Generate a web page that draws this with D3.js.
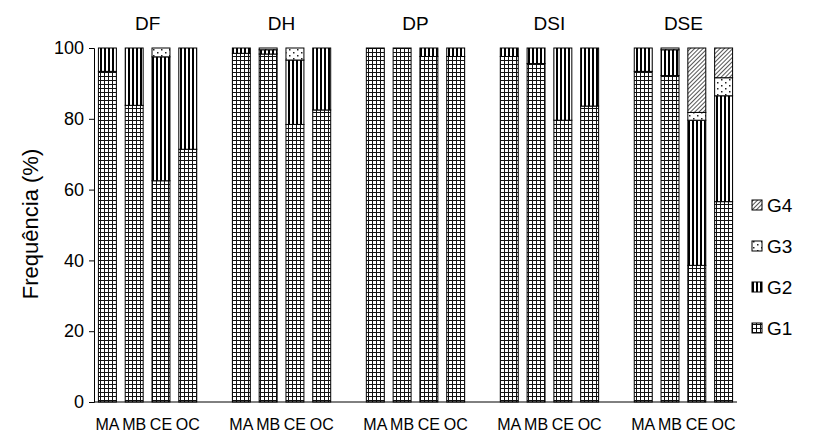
<!DOCTYPE html>
<html>
<head>
<meta charset="utf-8">
<script src="https://cdn.jsdelivr.net/npm/d3@7"></script>
<style>
  body { margin: 0; background: #fff; }
  text { font-family: "Liberation Sans", Arial, sans-serif; fill: #000; }
</style>
</head>
<body>
<div id="chart"></div>
<script>
// Categories
const groups = ["DF", "DH", "DP", "DSI", "DSE"];
const sites = ["MA", "MB", "CE", "OC"];
const classes = ["G1", "G2", "G3", "G4"];
const yTicks = [0, 20, 40, 60, 80, 100];

// Percentages per bar, group-major (DF MA, DF MB, DF CE, DF OC, DH MA, ...)
const g1Values = [93.4, 83.8, 62.5, 71.4, 98.5, 98.3, 78.4, 82.5, 100, 100, 97.6, 97.6, 97.6, 95.6, 79.6, 83.6, 93.4, 92.2, 38.6, 56.6];
const g2Values = [6.6, 16.2, 35.0, 28.6, 1.5, 1.2, 18.2, 17.5, 0, 0, 2.4, 2.4, 2.4, 4.4, 20.4, 16.4, 6.6, 7.3, 41.0, 29.9];
const g3Values = [0, 0, 2.5, 0, 0, 0.5, 3.4, 0, 0, 0, 0, 0, 0, 0, 0, 0, 0, 0.5, 2.2, 5.1];
const g4Values = [0, 0, 0, 0, 0, 0, 0, 0, 0, 0, 0, 0, 0, 0, 0, 0, 0, 0, 18.2, 8.4];

const width = 831, height = 439;
const margin = { top: 48, right: 94, bottom: 37, left: 94 };

// One slot per bar plus an empty slot between groups (24 slots)
const rows = [];
groups.forEach((g, gi) => {
  sites.forEach((s, si) => {
    const k = gi * sites.length + si;
    rows.push({ group: g, site: s, slot: gi * 5 + si,
      G1: g1Values[k], G2: g2Values[k], G3: g3Values[k], G4: g4Values[k] });
  });
});

const xScale = d3.scaleBand()
  .domain(d3.range(groups.length * 5 - 1))
  .range([margin.left, 737])
  .paddingInner(0.33)
  .paddingOuter(0.165);

const yScale = d3.scaleLinear()
  .domain([0, 100])
  .range([402, 48]);

const svg = d3.select("#chart").append("svg")
  .attr("width", width)
  .attr("height", height);

// Fill patterns for the four classes
const defs = svg.append("defs");

const pG1 = defs.append("pattern").attr("id", "pG1")
  .attr("patternUnits", "userSpaceOnUse").attr("width", 4).attr("height", 4);
pG1.append("rect").attr("width", 4).attr("height", 4).attr("fill", "#fff");
pG1.append("rect").attr("x", 0).attr("y", 0).attr("width", 1).attr("height", 4).attr("fill", "#111");
pG1.append("rect").attr("x", 0).attr("y", 0).attr("width", 4).attr("height", 1).attr("fill", "#111");

const pG2 = defs.append("pattern").attr("id", "pG2")
  .attr("patternUnits", "userSpaceOnUse").attr("width", 4).attr("height", 4);
pG2.append("rect").attr("width", 4).attr("height", 4).attr("fill", "#fff");
pG2.append("rect").attr("x", 0).attr("width", 2).attr("height", 4).attr("fill", "#000");

const pG3 = defs.append("pattern").attr("id", "pG3")
  .attr("patternUnits", "userSpaceOnUse").attr("width", 8).attr("height", 6);
pG3.append("rect").attr("width", 8).attr("height", 6).attr("fill", "#fff");
pG3.append("rect").attr("x", 1).attr("y", 1).attr("width", 1.5).attr("height", 1.5).attr("fill", "#222");
pG3.append("rect").attr("x", 5).attr("y", 4).attr("width", 1.5).attr("height", 1.5).attr("fill", "#222");

const pG4 = defs.append("pattern").attr("id", "pG4")
  .attr("patternUnits", "userSpaceOnUse").attr("width", 3).attr("height", 3)
  .attr("patternTransform", "rotate(45)");
pG4.append("rect").attr("width", 3).attr("height", 3).attr("fill", "#fff");
pG4.append("rect").attr("width", 1).attr("height", 3).attr("fill", "#555");

// Stack the classes
const series = d3.stack().keys(classes)(rows);

svg.append("g").selectAll("g")
  .data(series)
  .join("g")
    .attr("fill", d => "url(#p" + d.key + ")")
  .selectAll("rect")
  .data(d => d.filter(p => p[1] - p[0] > 0))
  .join("rect")
    .attr("x", d => xScale(d.data.slot))
    .attr("width", xScale.bandwidth())
    .attr("y", d => yScale(d[1]))
    .attr("height", d => yScale(d[0]) - yScale(d[1]))
    .attr("stroke", "#000")
    .attr("stroke-width", 1);

// Y axis
const yAxis = svg.append("g")
  .attr("transform", "translate(" + margin.left + ",0)")
  .call(d3.axisLeft(yScale).tickValues(yTicks).tickSize(5).tickPadding(5));
yAxis.selectAll("text").style("font-size", "18px");
yAxis.selectAll("line, path").attr("stroke", "#000");

// X axis baseline
svg.append("line")
  .attr("x1", margin.left).attr("x2", 737)
  .attr("y1", yScale(0)).attr("y2", yScale(0))
  .attr("stroke", "#000");

// Site labels under the bars
svg.append("g").selectAll("text")
  .data(rows)
  .join("text")
    .attr("x", d => xScale(d.slot) + xScale.bandwidth() / 2)
    .attr("y", 430)
    .attr("text-anchor", "middle")
    .style("font-size", "16px")
    .text(d => d.site);

// Group titles
svg.append("g").selectAll("text")
  .data(groups)
  .join("text")
    .attr("x", (d, i) => (xScale(i * 5) + xScale(i * 5 + 3) + xScale.bandwidth()) / 2)
    .attr("y", 30)
    .attr("text-anchor", "middle")
    .style("font-size", "19px")
    .text(d => d);

// Y axis label
svg.append("text")
  .attr("transform", "translate(38,224) rotate(-90)")
  .attr("text-anchor", "middle")
  .style("font-size", "22px")
  .text("Frequência (%)");

// Legend, G4 on top
const legend = svg.append("g").selectAll("g")
  .data(classes.slice().reverse())
  .join("g")
    .attr("transform", (d, i) => "translate(752," + (205 + i * 41) + ")");
legend.append("rect")
  .attr("x", 0).attr("y", -5).attr("width", 10).attr("height", 10)
  .attr("fill", d => "url(#p" + d + ")")
  .attr("stroke", "#000");
legend.append("text")
  .attr("x", 15).attr("y", 7)
  .style("font-size", "19px")
  .text(d => d);
</script>
</body>
</html>
